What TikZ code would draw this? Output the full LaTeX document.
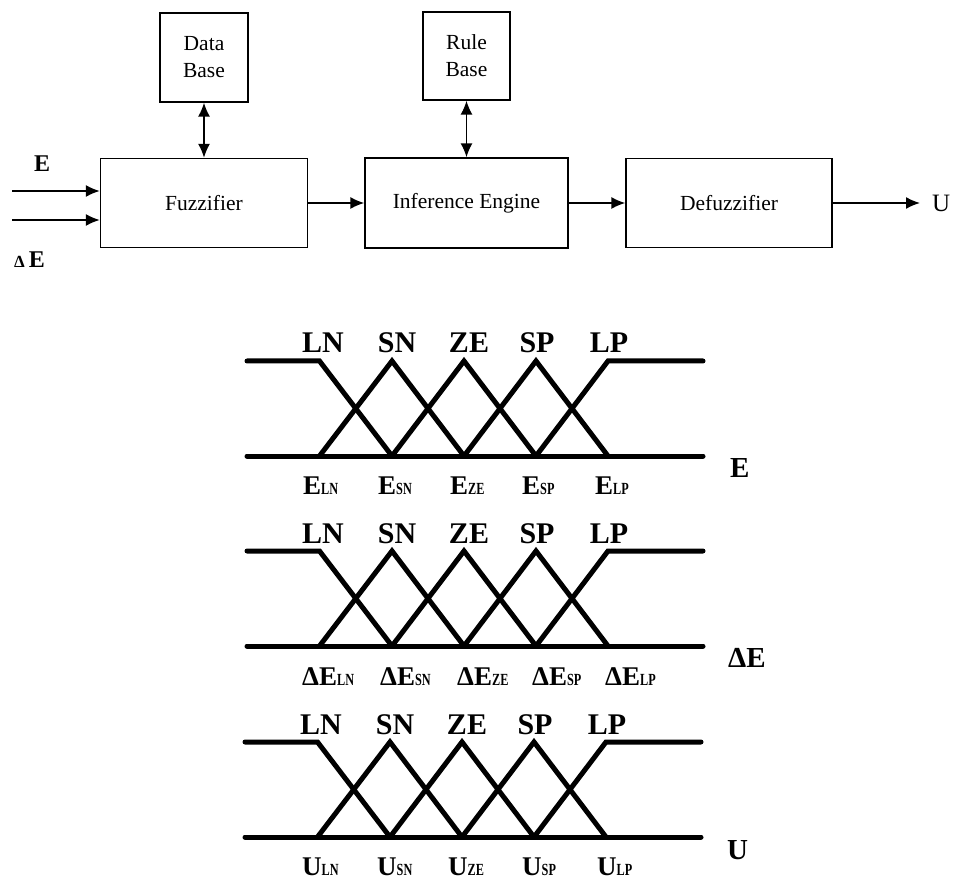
\documentclass[tikz,border=0pt]{standalone}
\usepackage{fontspec}
\usepackage{graphicx}
\setmainfont{Liberation Serif}
\usetikzlibrary{arrows.meta}
\newcommand{\msub}[1]{\scalebox{0.72}[1]{\fontsize{17}{17}\selectfont #1}}
\begin{document}
\begin{tikzpicture}[x=1pt,y=-1pt,
  blk/.style={draw,line width=1.3pt,inner sep=0pt,align=center,font=\fontsize{21.5}{27}\selectfont},
  arr/.style={line width=1.6pt,-{Latex[length=14pt,width=12pt]}},
  darr/.style={line width=1.6pt,{Latex[length=14pt,width=12pt]}-{Latex[length=14pt,width=12pt]}},
  mf/.style={line width=5pt,line join=miter,line cap=round},
  mflab/.style={anchor=base,inner sep=0pt,font=\bfseries\fontsize{30}{30}\selectfont},
  sublab/.style={anchor=base west,inner sep=0pt,font=\bfseries\fontsize{27}{27}\selectfont},
  axlab/.style={anchor=base west,inner sep=0pt,font=\bfseries\fontsize{29}{29}\selectfont},
  inlab/.style={anchor=base west,inner sep=0pt,font=\bfseries\fontsize{24}{24}\selectfont},
]
\useasboundingbox (0,0) rectangle (956,882);

% ---- block diagram ----
\node[blk,minimum width=88pt,minimum height=89pt] (db) at (204,57.5) {Data\\Base};
\node[blk,minimum width=207pt,minimum height=89pt] (fuz) at (204,203) {Fuzzifier};
\node[blk,minimum width=87pt,minimum height=88pt] (rb) at (466.5,56) {Rule\\Base};
\node[blk,minimum width=203pt,minimum height=90pt] (inf) at (466.5,203) {Inference Engine};
\node[blk,minimum width=206pt,minimum height=89pt] (def) at (729,203) {Defuzzifier};

\draw[darr] (db) -- (fuz);
\draw[darr] (rb) -- (inf);
\draw[arr] (fuz) -- (inf);
\draw[arr] (inf) -- (def);

\coordinate (uout) at (920,203);
\draw[arr] (def) -- (uout);
\node[anchor=west,inner sep=0pt,font=\fontsize{25}{25}\selectfont] (ulab) at (932,203) {U};

\coordinate (e1) at (12,191);
\coordinate (e2) at (12,220);
\draw[arr] (e1) -- (e1 -| fuz.west);
\draw[arr] (e2) -- (e2 -| fuz.west);
\node[inlab] (elab) at (34,172) {E};
\node[inlab] (delab) at (14,268) {{\fontsize{17}{17}\selectfont Δ}\,E};

% ---- membership functions ----
\foreach \sx/\sy/\k in {0/361/1, 0/551/2, -2/742/3} {
  \begin{scope}[shift={(\sx,\sy)}]
    \draw[mf] (247,0) -- (319.5,0) -- (392,95);
    \draw[mf] (319.5,95) -- (392,0) -- (464,95);
    \draw[mf] (392,95) -- (464,0) -- (536,95);
    \draw[mf] (464,95) -- (536,0) -- (608,95);
    \draw[mf] (536,95) -- (608,0) -- (703,0);
    \draw[mf] (247,95) -- (703,95);
    \foreach \n/\x in {LN/323, SN/397, ZE/469, SP/537, LP/609}
      \node[mflab] (top\k\n) at (\x,-8) {\n};
  \end{scope}
}

% bottom labels, plot 1
\node[sublab] (e1ln) at (303,494) {E\msub{LN}};
\node[sublab] (e1sn) at (378,494) {E\msub{SN}};
\node[sublab] (e1ze) at (450,494) {E\msub{ZE}};
\node[sublab] (e1sp) at (522,494) {E\msub{SP}};
\node[sublab] (e1lp) at (595,494) {E\msub{LP}};
\node[axlab] (ax1) at (730,477) {E};

% bottom labels, plot 2
\node[sublab] (e2ln) at (302,685) {ΔE\msub{LN}};
\node[sublab] (e2sn) at (380,685) {ΔE\msub{SN}};
\node[sublab] (e2ze) at (457,685) {ΔE\msub{ZE}};
\node[sublab] (e2sp) at (532,685) {ΔE\msub{SP}};
\node[sublab] (e2lp) at (605,685) {ΔE\msub{LP}};
\node[axlab] (ax2) at (728,667) {ΔE};

% bottom labels, plot 3
\node[sublab] (e3ln) at (302,875) {U\msub{LN}};
\node[sublab] (e3sn) at (377,875) {U\msub{SN}};
\node[sublab] (e3ze) at (448,875) {U\msub{ZE}};
\node[sublab] (e3sp) at (522,875) {U\msub{SP}};
\node[sublab] (e3lp) at (597,875) {U\msub{LP}};
\node[axlab] (ax3) at (727,859) {U};
\end{tikzpicture}
\end{document}
